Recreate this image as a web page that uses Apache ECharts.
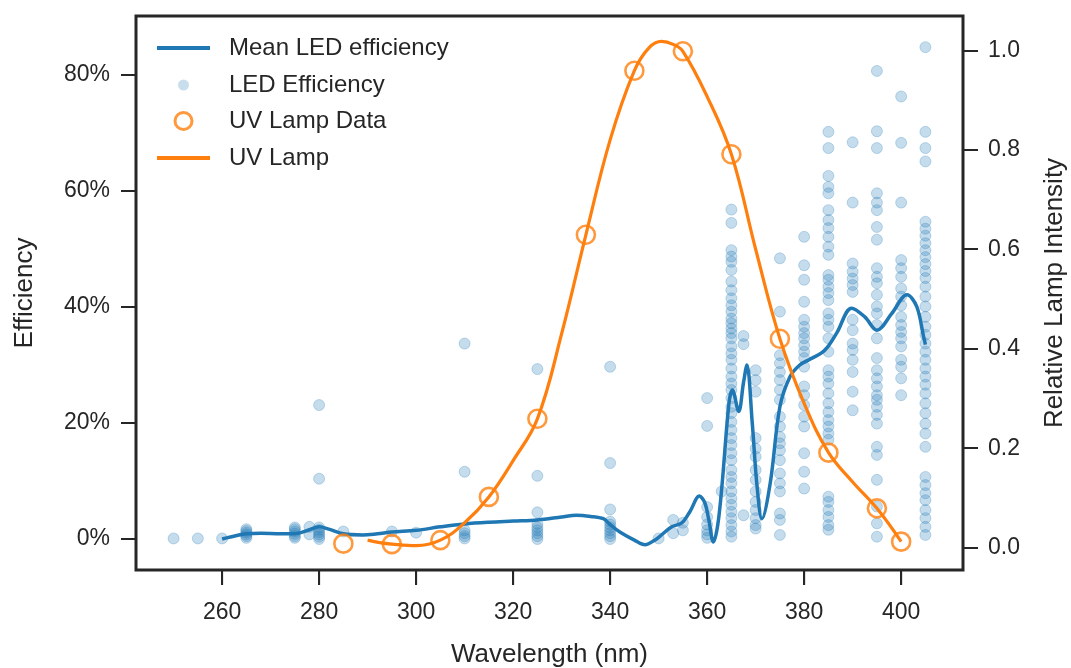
<!DOCTYPE html>
<html>
<head>
<meta charset="utf-8">
<script src="https://cdn.jsdelivr.net/npm/echarts@6/dist/echarts.min.js"></script>
<style>
  html, body { margin: 0; padding: 0; background: #ffffff; }
  #chart { width: 1071px; height: 668px; }
</style>
</head>
<body>
<div id="chart"></div>
<script>
// Measured LED efficiencies (%), grouped by emission wavelength (nm)
const ledWavelengths = [250, 255, 260, 265, 275, 278, 280, 285, 295, 300, 310, 325, 340, 350, 353, 355,
  360, 363, 365, 367.5, 370, 375, 380, 385, 390, 395, 400, 405];
const ledEfficiencies = [
  [0.1],
  [0.1],
  [0.1],
  [0.2, 0.5, 0.8, 1.1, 1.4, 1.7],
  [0.2, 0.5, 0.9, 1.3, 1.7, 2.0],
  [0.8, 2.1],
  [23.1, 10.4, 0.0, 0.4, 0.8, 1.2, 1.6, 2.0],
  [1.3],
  [1.3],
  [1.1],
  [33.7, 11.6, 1.5, 1.0, 0.5, 0.1],
  [29.3, 10.9, 4.6, 2.6, 2.0, 1.5, 1.0, 0.5, 0.0],
  [29.7, 13.1, 5.1, 3.0, 2.5, 2.0, 1.5, 1.0, 0.5, 0.0],
  [0.1],
  [3.3, 1.0],
  [2.8, 1.5],
  [24.3, 19.5, 5.5, 3.8, 2.5, 1.5, 0.8, 0.2],
  [8.2],
  [56.8, 54.5, 49.8, 48.7, 47.8, 46.4, 44.4, 42.9, 41.5, 40.3, 39.2, 38.0, 37.2, 36.3, 35.5, 34.6, 33.2,
   32.0, 30.9, 29.4, 28.0, 26.8, 25.7, 24.3, 22.8, 21.7, 20.2, 18.8, 17.4, 16.2, 14.8, 13.6, 11.9, 10.7,
   9.6, 8.2, 7.0, 5.9, 4.7, 3.6, 2.4, 1.3, 0.4],
  [35.0, 33.6, 4.1],
  [29.1, 27.4, 25.4, 17.4, 15.6, 14.2, 11.9, 10.2, 8.2, 6.4, 5.0, 3.6, 2.4, 1.8],
  [48.4, 39.2, 31.7, 30.3, 28.8, 27.4, 25.7, 24.0, 21.1, 19.4, 17.6, 16.5, 15.3, 13.6, 11.3, 9.6, 8.2,
   4.4, 3.3, 0.7],
  [52.1, 47.2, 44.7, 40.9, 37.8, 36.6, 35.5, 34.6, 33.4, 32.3, 31.2, 29.7, 26.3, 24.8, 23.1, 21.1, 19.4,
   14.8, 11.6, 8.7],
  [70.2, 67.4, 62.6, 60.7, 59.6, 56.7, 55.0, 53.6, 52.1, 50.4, 49.0, 45.5, 44.7, 43.5, 42.4, 41.2, 38.9,
   37.8, 36.6, 34.6, 32.3, 29.1, 28.0, 26.8, 25.1, 23.4, 21.9, 20.5, 19.4, 18.2, 17.1, 7.3, 6.4, 5.0,
   3.8, 2.4, 1.6],
  [68.4, 58.0, 47.5, 46.1, 44.9, 43.8, 42.6, 37.8, 36.0, 33.7, 32.6, 30.9, 28.8, 25.4, 22.2],
  [80.7, 70.3, 67.4, 59.6, 58.0, 56.7, 53.8, 51.6, 46.7, 45.2, 44.1, 42.1, 40.1, 38.9, 36.9, 34.6, 31.2,
   29.1, 27.7, 26.3, 24.8, 24.0, 22.8, 21.4, 19.9, 15.9, 14.5, 10.2, 5.6, 2.7, 0.4],
  [76.3, 68.3, 58.0, 48.1, 46.7, 45.2, 43.2, 41.8, 40.3, 38.3, 36.9, 35.7, 34.6, 33.2, 30.9, 29.7, 27.7,
   24.8],
  [84.8, 70.2, 67.4, 65.1, 54.7, 53.5, 52.3, 51.0, 49.8, 48.6, 47.4, 46.2, 45.0, 43.5, 41.8, 40.1, 38.3,
   36.6, 35.2, 33.7, 32.3, 30.9, 29.4, 28.0, 26.6, 25.1, 23.4, 21.7, 19.9, 18.2, 15.9, 10.7, 9.3, 7.9,
   6.7, 5.0, 3.6, 2.1, 0.7]
];

// Smoothed mean LED efficiency curve (%)
const meanWavelengths = [260, 263, 265, 268, 272, 275, 278, 280, 282, 285, 289, 292, 295, 300, 305, 310,
  315, 320, 325, 330, 333, 336, 338.6, 340, 342, 345, 347.2, 349, 350, 352.7, 354.8, 356.5, 358.4, 359.5,
  360.3, 361.3, 362.2, 363.1, 364.5, 365.2, 366.5, 367.5, 368.2, 369.3, 370.3, 371.3, 373, 375, 377.1,
  379.1, 381.2, 384.2, 386.7, 389.8, 392.5, 395, 398, 401.2, 403.2, 404.6, 405];
const meanEfficiency = [0.0, 0.6, 0.9, 1.0, 0.9, 0.9, 1.6, 2.1, 1.7, 0.9, 0.7, 0.9, 1.2, 1.5, 2.1, 2.6,
  2.9, 3.1, 3.3, 3.8, 4.1, 3.9, 3.5, 2.5, 1.2, -0.2, -1.0, -0.3, 0.3, 2.1, 2.8, 4.8, 7.4, 6.3,
  3.5, -0.5, 2.5, 9.6, 23.4, 25.7, 22.0, 27.0, 30.0, 20.0, 9.0, 3.5, 9.6, 22.8, 28.0,
  30.0, 31.0, 32.5, 35.5, 39.8, 38.3, 36.0, 38.8, 42.1, 40.1, 35.0, 33.5];

// UV lamp spectrum: measured points and fitted curve (relative intensity)
const lampWavelengths = [285, 295, 305, 315, 325, 335, 345, 355, 365, 375, 385, 395, 400];
const lampIntensity = [0.008, 0.007, 0.015, 0.102, 0.259, 0.629, 0.959, 0.998, 0.791, 0.42, 0.191, 0.079, 0.012];
const lampCurveWavelengths = [290, 292.5, 295, 300, 305, 310, 315, 320, 325, 330, 335, 340, 345, 348, 350.6,
  353, 355, 360, 365, 370, 375, 380, 385, 390, 395, 400];
const lampCurveIntensity = [0.015, 0.010, 0.007, 0.004, 0.015, 0.05, 0.102, 0.175, 0.259, 0.43, 0.629, 0.82,
  0.959, 1.005, 1.018, 1.012, 0.998, 0.907, 0.791, 0.60, 0.42, 0.29, 0.1915, 0.132, 0.079, 0.012];

// Axis ticks
const wavelengthTicks = [260, 280, 300, 320, 340, 360, 380, 400];
const efficiencyTicks = [0, 20, 40, 60, 80];
const intensityTicks = [0, 0.2, 0.4, 0.6, 0.8, 1.0];

// Axis extents (data range plus a 5% pad on each side)
const X_MIN = 242.25, X_MAX = 412.75;
const EFF_MIN = -5.34, EFF_MAX = 90.17;
const INT_MIN = -0.045, INT_MAX = 1.069;

const BLUE = '#1f77b4';
const ORANGE = '#ff7f0e';
const INK = '#262626';
const FONT = '"Liberation Sans", Arial, Helvetica, sans-serif';
const TICK_LEN = 15;

const ledPoints = [];
ledWavelengths.forEach((wl, i) => {
  ledEfficiencies[i].forEach(v => ledPoints.push([wl, v]));
});
const meanPoints = meanWavelengths.map((wl, i) => [wl, meanEfficiency[i]]);
const lampPoints = lampWavelengths.map((wl, i) => [wl, lampIntensity[i]]);
const lampCurvePoints = lampCurveWavelengths.map((wl, i) => [wl, lampCurveIntensity[i]]);

const tickStyle = { show: true, inside: false, length: TICK_LEN, lineStyle: { color: INK, width: 2 } };
const labelStyle = { fontFamily: FONT, fontSize: 23, color: INK };

// Legend entries share a 53px key column; each legend's box starts at its
// symbol's own bounds, so the circle keys are shifted by their inset.
const KEY_LEFT = 157;
const KEY_W = 53;
const legendBase = {
  orient: 'vertical',
  itemWidth: KEY_W,
  itemGap: 0,
  padding: 0,
  selectedMode: false,
  textStyle: { fontFamily: FONT, fontSize: 24, color: INK, lineHeight: 24, padding: [0, 0, 0, 14] }
};
const dotD = 11, ringD = 17, ringW = 3;

const chart = echarts.init(document.getElementById('chart'), null, { renderer: 'canvas' });
chart.setOption({
  animation: false,
  backgroundColor: '#ffffff',
  grid: {
    left: 136, right: 108, top: 16, bottom: 98,
    show: true, borderColor: INK, borderWidth: 3, backgroundColor: 'transparent',
    containLabel: false, outerBoundsMode: 'none'
  },
  legend: [
    Object.assign({}, legendBase, { left: KEY_LEFT, top: 36, itemHeight: 4,
      data: [{ name: 'Mean LED efficiency', icon: 'rect', itemStyle: { color: BLUE } }] }),
    Object.assign({}, legendBase, { left: KEY_LEFT + (KEY_W - dotD) / 2, top: 73, itemHeight: dotD,
      data: [{ name: 'LED Efficiency', icon: 'circle', itemStyle: { color: 'rgba(31,119,180,0.3)', borderWidth: 0 } }] }),
    Object.assign({}, legendBase, { left: KEY_LEFT + (KEY_W - ringD - ringW) / 2, top: 109, itemHeight: ringD,
      data: [{ name: 'UV Lamp Data', icon: 'circle', itemStyle: { color: '#ffffff', borderColor: ORANGE, borderWidth: ringW } }] }),
    Object.assign({}, legendBase, { left: KEY_LEFT, top: 146, itemHeight: 4,
      data: [{ name: 'UV Lamp', icon: 'rect', itemStyle: { color: ORANGE } }] })
  ],
  xAxis: {
    type: 'value',
    min: X_MIN, max: X_MAX,
    name: 'Wavelength (nm)', nameLocation: 'middle', nameGap: 72,
    nameTextStyle: { fontFamily: FONT, fontSize: 26, color: INK },
    axisLine: { show: false, onZero: false },
    axisTick: Object.assign({}, tickStyle, { customValues: wavelengthTicks }),
    axisLabel: Object.assign({}, labelStyle, { margin: 31, customValues: wavelengthTicks }),
    splitLine: { show: false }
  },
  yAxis: [
    {
      type: 'value',
      position: 'left',
      min: EFF_MIN, max: EFF_MAX,
      name: 'Efficiency', nameLocation: 'middle', nameGap: 98,
      nameTextStyle: { fontFamily: FONT, fontSize: 26, color: INK },
      axisLine: { show: false, onZero: false },
      axisTick: Object.assign({}, tickStyle, { customValues: efficiencyTicks }),
      axisLabel: Object.assign({}, labelStyle, { margin: 26, customValues: efficiencyTicks,
        formatter: v => Math.round(v) + '%' }),
      splitLine: { show: false }
    },
    {
      type: 'value',
      position: 'right',
      min: INT_MIN, max: INT_MAX,
      name: 'Relative Lamp Intensity', nameLocation: 'middle', nameGap: 79,
      nameTextStyle: { fontFamily: FONT, fontSize: 26, color: INK },
      axisLine: { show: false, onZero: false },
      axisTick: Object.assign({}, tickStyle, { customValues: intensityTicks }),
      axisLabel: Object.assign({}, labelStyle, { margin: 25, customValues: intensityTicks,
        formatter: v => v.toFixed(1) }),
      splitLine: { show: false }
    }
  ],
  series: [
    {
      // outward tick marks under the wavelength axis, placed through the axis scale
      name: 'wavelength ticks',
      type: 'custom',
      yAxisIndex: 0,
      data: wavelengthTicks.map(v => [v, EFF_MIN]),
      clip: false,
      silent: true,
      z: 0,
      renderItem: (params, api) => {
        const p = api.coord([api.value(0), api.value(1)]);
        return {
          type: 'line',
          shape: { x1: p[0], y1: p[1], x2: p[0], y2: p[1] + TICK_LEN },
          style: { stroke: INK, lineWidth: 2 }
        };
      }
    },
    {
      name: 'LED Efficiency',
      type: 'scatter',
      yAxisIndex: 0,
      data: ledPoints,
      symbol: 'circle',
      symbolSize: 11,
      itemStyle: { color: 'rgba(31,119,180,0.32)', borderColor: 'rgba(31,119,180,0.32)', borderWidth: 1 },
      emphasis: { disabled: true },
      z: 1
    },
    {
      name: 'Mean LED efficiency',
      type: 'line',
      yAxisIndex: 0,
      data: meanPoints,
      smooth: 0.35,
      showSymbol: false,
      symbol: 'none',
      lineStyle: { color: BLUE, width: 3.5 },
      itemStyle: { color: BLUE },
      emphasis: { disabled: true },
      z: 2
    },
    {
      name: 'UV Lamp',
      type: 'line',
      yAxisIndex: 1,
      data: lampCurvePoints,
      smooth: 0.4,
      showSymbol: false,
      symbol: 'none',
      lineStyle: { color: ORANGE, width: 3.2 },
      itemStyle: { color: ORANGE },
      emphasis: { disabled: true },
      z: 3
    },
    {
      name: 'UV Lamp Data',
      type: 'scatter',
      yAxisIndex: 1,
      data: lampPoints,
      symbol: 'circle',
      symbolSize: 18,
      itemStyle: { color: 'rgba(0,0,0,0)', borderColor: ORANGE, borderWidth: 2.6 },
      emphasis: { disabled: true },
      z: 4
    }
  ]
});
</script>
</body>
</html>
